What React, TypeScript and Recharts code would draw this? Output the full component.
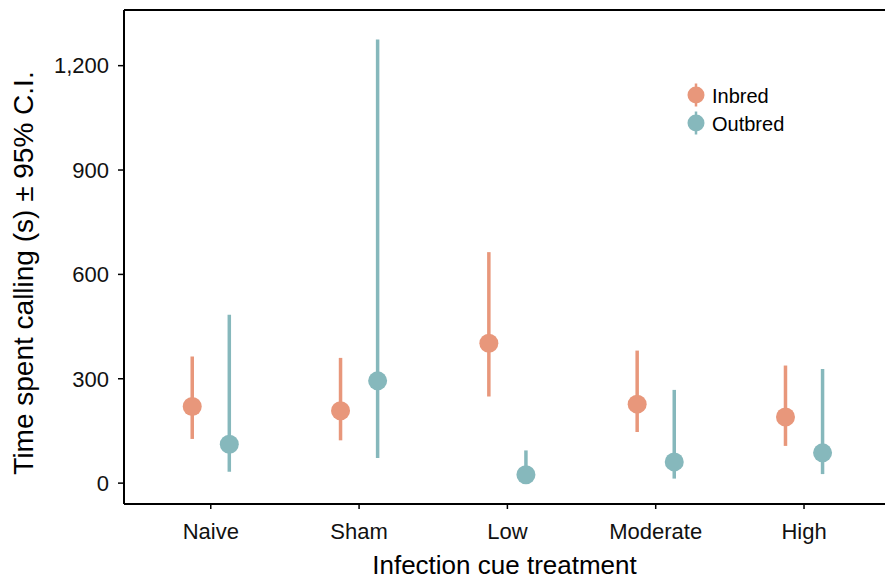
import {
  ComposedChart,
  Scatter,
  XAxis,
  YAxis,
  ErrorBar,
  Legend,
  ReferenceLine,
} from "recharts";

const treatments = ["Naive", "Sham", "Low", "Moderate", "High"];

const inbredMean = [220, 208, 402, 227, 190];
const inbredLow = [127, 123, 249, 147, 107];
const inbredHigh = [364, 360, 664, 381, 338];

const outbredMean = [112, 294, 24, 61, 87];
const outbredLow = [33, 72, 5, 13, 26];
const outbredHigh = [484, 1275, 94, 268, 328];

const yTicks = [0, 300, 600, 900, 1200];

const INBRED = "#E8977B";
const OUTBRED = "#86B8BC";
const FONT = '"Liberation Sans", Arial, Helvetica, sans-serif';
const Y_MAX = 1360;
const Y_TITLE = "Time spent calling (s) ± 95% C.I.";

const dodge = 0.125;

function build(mean: number[], lo: number[], hi: number[], shift: number) {
  return mean.map((m, i) => ({
    x: i + 1 + shift,
    y: m,
    ci: [m - lo[i], hi[i] - m],
  }));
}

const inbredData = build(inbredMean, inbredLow, inbredHigh, -dodge);
const outbredData = build(outbredMean, outbredLow, outbredHigh, dodge);

function dot(color: string) {
  return (p: { cx?: number; cy?: number }) => (
    <circle cx={p.cx} cy={p.cy} r={9.5} fill={color} />
  );
}

function YTitle() {
  // rotated axis title
  return (
    <text
      x={33}
      y={273}
      transform="rotate(-90 33 273)"
      textAnchor="middle"
      fontSize={28}
      fill="#000"
      fontFamily={FONT}
    >
      {Y_TITLE}
    </text>
  );
}

function LegendBox() {
  const items = [
    { name: "Inbred", color: INBRED },
    { name: "Outbred", color: OUTBRED },
  ];
  return (
    <svg width={120} height={60} style={{ fontFamily: FONT }}>
      {items.map((it, i) => {
        const cy = 15 + i * 28;
        return (
          <g key={it.name}>
            <line x1={16} x2={16} y1={cy - 11.5} y2={cy + 11.5} stroke={it.color} strokeWidth={2.5} />
            <circle cx={16} cy={cy} r={8.5} fill={it.color} />
            <text x={32} y={cy + 8} fontSize={20} fill="#000">
              {it.name}
            </text>
          </g>
        );
      })}
    </svg>
  );
}

export default function App() {
  return (
    <div style={{ position: "absolute", left: 0, top: 0, background: "#fff" }}>
      <ComposedChart
        width={885}
        height={580}
        margin={{ top: 10, right: 0, bottom: 0, left: 0 }}
        style={{ fontFamily: FONT }}
      >
        <XAxis
          type="number"
          dataKey="x"
          domain={[0.415, 5.546]}
          allowDataOverflow
          ticks={[1, 2, 3, 4, 5]}
          tickFormatter={(v) => treatments[v - 1] ?? ""}
          height={76}
          axisLine={{ stroke: "#000", strokeWidth: 2 }}
          tickLine={{ stroke: "#000", strokeWidth: 1.5 }}
          tickSize={5}
          tickMargin={14}
          tick={{ fontSize: 22, fill: "#111" }}
          label={{
            value: "Infection cue treatment",
            position: "insideBottom",
            offset: 6,
            style: { fontSize: 26, fill: "#000" },
          }}
        />
        <YAxis
          type="number"
          dataKey="y"
          domain={[-60, Y_MAX]}
          allowDataOverflow
          ticks={yTicks}
          tickFormatter={(v) => Number(v).toLocaleString("en-US")}
          width={124}
          axisLine={{ stroke: "#000", strokeWidth: 2 }}
          tickLine={{ stroke: "#000", strokeWidth: 1.5 }}
          tickSize={6}
          tickMargin={9}
          tick={{ fontSize: 22, fill: "#111" }}
          label={{ content: () => <YTitle /> }}
        />
        <ReferenceLine y={Y_MAX} stroke="#000" strokeWidth={2} />
        <Scatter
          name="Inbred"
          data={inbredData}
          fill={INBRED}
          shape={dot(INBRED)}
          isAnimationActive={false}
        >
          <ErrorBar
            dataKey="ci"
            direction="y"
            width={0}
            stroke={INBRED}
            strokeWidth={3.5}
            isAnimationActive={false}
          />
        </Scatter>
        <Scatter
          name="Outbred"
          data={outbredData}
          fill={OUTBRED}
          shape={dot(OUTBRED)}
          isAnimationActive={false}
        >
          <ErrorBar
            dataKey="ci"
            direction="y"
            width={0}
            stroke={OUTBRED}
            strokeWidth={3.5}
            isAnimationActive={false}
          />
        </Scatter>
        <Legend
          layout="vertical"
          align="center"
          verticalAlign="middle"
          content={() => <LegendBox />}
          wrapperStyle={{ left: 680, top: 80, width: 120, height: 60 }}
        />
      </ComposedChart>
    </div>
  );
}
